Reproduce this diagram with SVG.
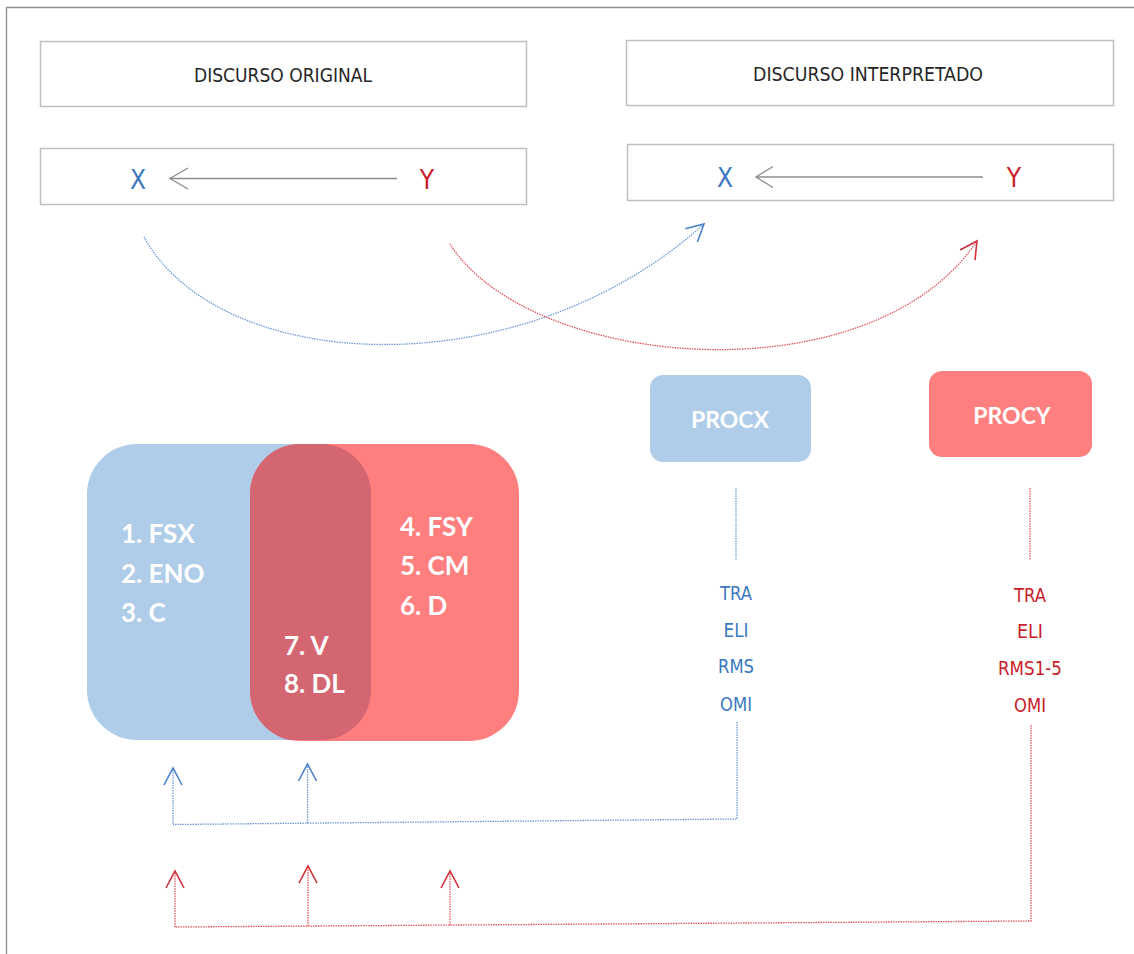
<svg xmlns="http://www.w3.org/2000/svg" width="1134" height="954" viewBox="0 0 1134 954">
<style>
.box{fill:#fff;stroke:#BFBFBF;stroke-width:1.5}
.hdr{font-family:"Liberation Sans Narrow","DejaVu Sans Condensed","Liberation Sans",sans-serif;font-size:20px;fill:#262626;text-anchor:middle}
.xy{font-family:"Liberation Sans Narrow","DejaVu Sans Condensed","Liberation Sans",sans-serif;font-size:26px;text-anchor:middle}
.blue{fill:#3B78C0}
.red{fill:#C8202A}
.lbl{font-family:"Liberation Sans Narrow","DejaVu Sans Condensed","Liberation Sans",sans-serif;font-size:20px;text-anchor:middle}
.venn{font-family:Lato,"Open Sans",sans-serif;font-weight:bold;font-size:26px;fill:#fff}
.proc{font-family:Lato,"Open Sans",sans-serif;font-weight:bold;font-size:23px;fill:#fff;text-anchor:middle}
.gl{stroke:#8C8C8C;stroke-width:1.3;fill:none}
.db{stroke:#6F9BD6;stroke-width:1.3;fill:none;stroke-dasharray:1.5 1}
.dr{stroke:#E0545C;stroke-width:1.3;fill:none;stroke-dasharray:1.5 1}
</style>
<defs>
<marker id="ab" markerUnits="userSpaceOnUse" viewBox="-20 -12 22 24" refX="0" refY="0" markerWidth="22" markerHeight="24" orient="auto" overflow="visible">
<path d="M-17,-9 L0,0 L-17,9" fill="none" stroke="#4A80C8" stroke-width="1.6"/>
</marker>
<marker id="ar" markerUnits="userSpaceOnUse" viewBox="-20 -12 22 24" refX="0" refY="0" markerWidth="22" markerHeight="24" orient="auto" overflow="visible">
<path d="M-17,-9 L0,0 L-17,9" fill="none" stroke="#D0303A" stroke-width="1.6"/>
</marker>
<clipPath id="clipBlue"><rect x="87" y="444" width="284" height="296" rx="50"/></clipPath>
</defs>
<rect width="1134" height="954" fill="#fff"/>
<g id="frame">
<line x1="6.5" y1="7" x2="6.5" y2="954" stroke="#8C8C8C" stroke-width="1.3"/>
<line x1="6" y1="7.5" x2="1134" y2="7.5" stroke="#8C8C8C" stroke-width="1.3"/>
</g>
<g id="discurso-original">
<rect class="box" x="40.5" y="41.5" width="486" height="65"/>
<text class="hdr" x="283" y="82" textLength="178" lengthAdjust="spacingAndGlyphs">DISCURSO  ORIGINAL</text>
</g>
<g id="xy-original">
<rect class="box" x="40.5" y="148.5" width="486" height="56"/>
<text class="xy blue" x="138" y="189">X</text>
<text class="xy red" x="427" y="189">Y</text>
<line class="gl" x1="170" y1="178.5" x2="397" y2="178.5"/>
<path class="gl" d="M188,168 L170,178.5 L188,189"/>
</g>
<g id="discurso-interpretado">
<rect class="box" x="626.5" y="40.5" width="487" height="65"/>
<text class="hdr" x="868" y="81" textLength="230" lengthAdjust="spacingAndGlyphs">DISCURSO  INTERPRETADO</text>
</g>
<g id="xy-interpretado">
<rect class="box" x="627.5" y="144.5" width="486" height="56"/>
<text class="xy blue" x="725" y="187">X</text>
<text class="xy red" x="1014" y="187">Y</text>
<line class="gl" x1="756" y1="177" x2="983" y2="177"/>
<path class="gl" d="M773,166.5 L756,177 L773,187.5"/>
</g>
<g id="venn">
<rect x="87" y="444" width="284" height="296" rx="50" fill="#AFCDE9"/>
<rect x="250" y="444" width="269" height="297" rx="50" fill="#FF7F7F"/>
<rect x="250" y="444" width="269" height="297" rx="50" fill="#D46672" clip-path="url(#clipBlue)"/>
<text class="venn" x="121" y="543">1. FSX</text>
<text class="venn" x="121" y="583">2. ENO</text>
<text class="venn" x="121" y="622">3. C</text>
<text class="venn" x="400" y="536">4. FSY</text>
<text class="venn" x="400" y="575">5. CM</text>
<text class="venn" x="400" y="615">6. D</text>
<text class="venn" x="284" y="655">7. V</text>
<text class="venn" x="284" y="693">8. DL</text>
</g>
<g id="procx">
<rect x="650" y="375" width="161" height="87" rx="13" fill="#AFCDE9"/>
<text class="proc" x="730" y="428">PROCX</text>
</g>
<g id="procy">
<rect x="929" y="371" width="163" height="86" rx="13" fill="#FF7F7F"/>
<text class="proc" x="1012" y="424">PROCY</text>
</g>
<g id="procx-list">
<text class="lbl blue" x="736" y="600" textLength="32" lengthAdjust="spacingAndGlyphs">TRA</text>
<text class="lbl blue" x="736" y="637" textLength="25" lengthAdjust="spacingAndGlyphs">ELI</text>
<text class="lbl blue" x="736" y="673" textLength="36" lengthAdjust="spacingAndGlyphs">RMS</text>
<text class="lbl blue" x="736" y="711" textLength="32" lengthAdjust="spacingAndGlyphs">OMI</text>
</g>
<g id="procy-list">
<text class="lbl red" x="1030" y="602" textLength="32" lengthAdjust="spacingAndGlyphs">TRA</text>
<text class="lbl red" x="1030" y="638" textLength="26" lengthAdjust="spacingAndGlyphs">ELI</text>
<text class="lbl red" x="1030" y="675" textLength="64" lengthAdjust="spacingAndGlyphs">RMS1-5</text>
<text class="lbl red" x="1030" y="712" textLength="32" lengthAdjust="spacingAndGlyphs">OMI</text>
</g>
<g id="connectors">
<path class="db" d="M144,237 C220,375 520,390 704,224" marker-end="url(#ab)"/>
<path class="dr" d="M450,244 C530,370 870,400 977,241" marker-end="url(#ar)"/>
<line class="db" x1="736" y1="488" x2="736" y2="560"/>
<line class="dr" x1="1030" y1="488" x2="1030" y2="560"/>
<path class="db" d="M737,722 L737,819 L173,824.5"/>
<line class="db" x1="173" y1="824" x2="173" y2="768" marker-end="url(#ab)"/>
<line class="db" x1="307.5" y1="823" x2="307.5" y2="764" marker-end="url(#ab)"/>
<path class="dr" d="M1031,725 L1031,921 L175,927"/>
<line class="dr" x1="175" y1="927" x2="175" y2="871" marker-end="url(#ar)"/>
<line class="dr" x1="308" y1="926" x2="308" y2="866" marker-end="url(#ar)"/>
<line class="dr" x1="450" y1="925" x2="450" y2="871" marker-end="url(#ar)"/>
</g>
</svg>
